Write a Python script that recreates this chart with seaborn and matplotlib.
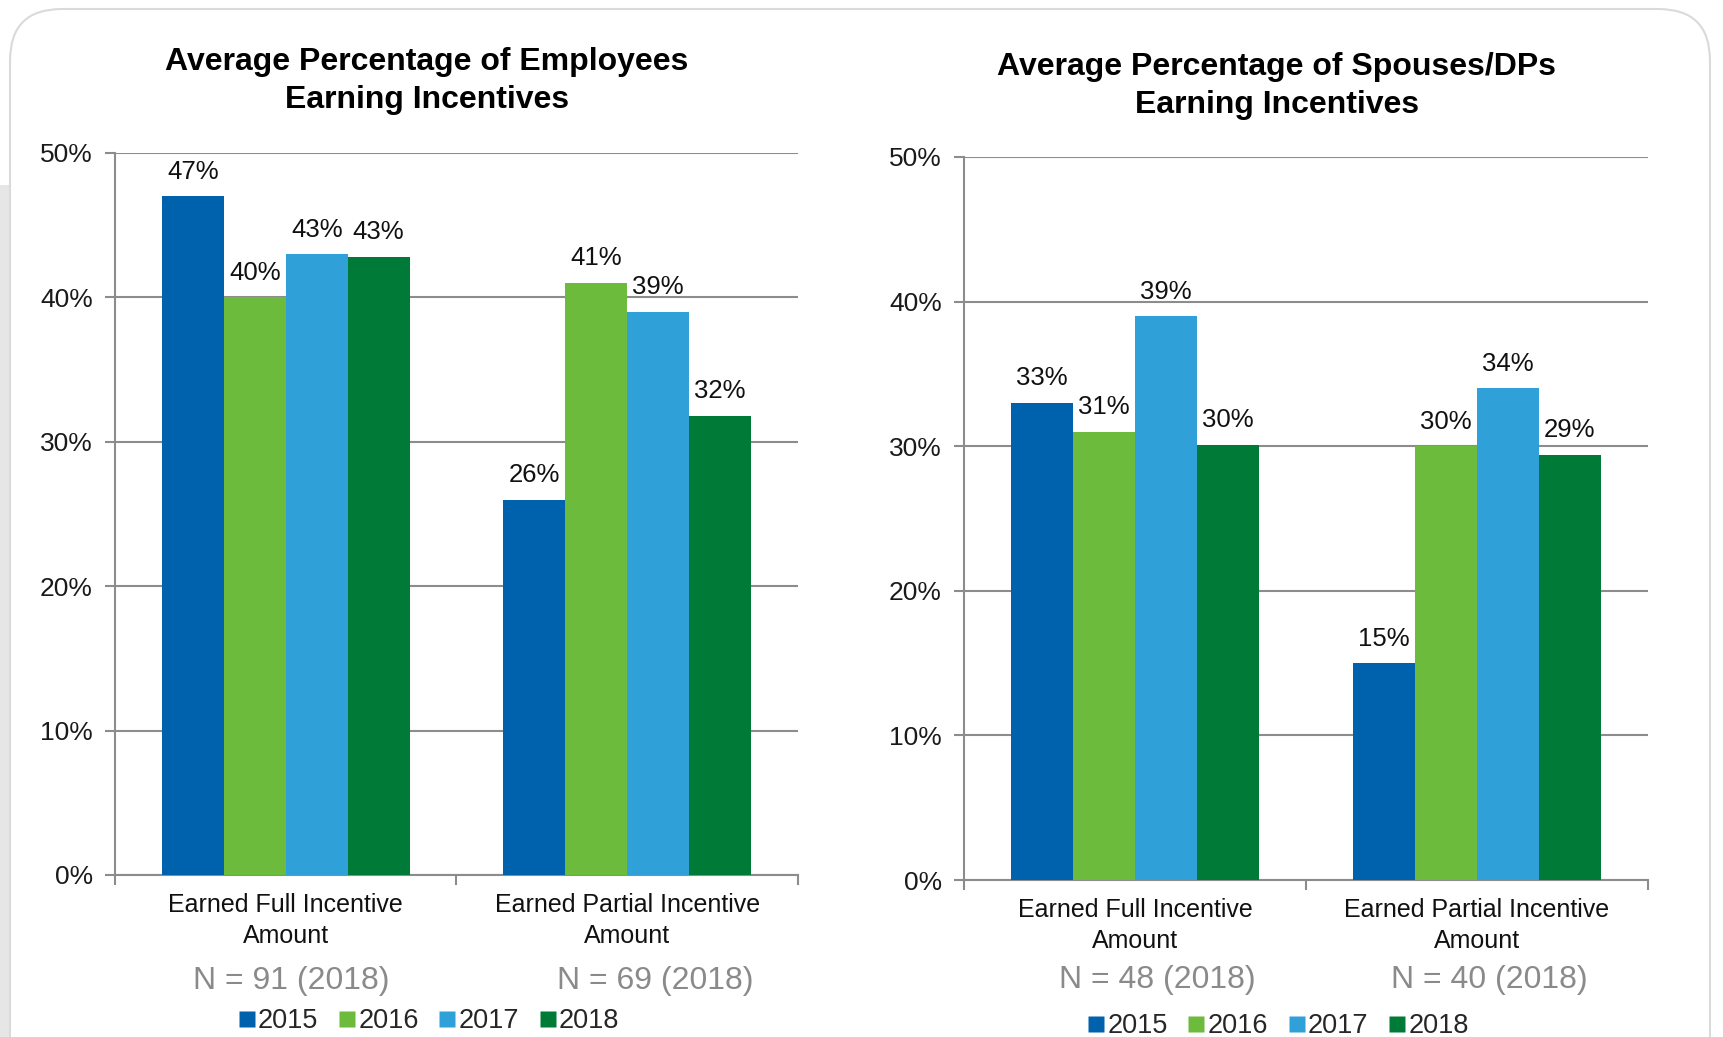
import matplotlib
matplotlib.use("Agg")
import matplotlib.pyplot as plt
from matplotlib.patches import FancyBboxPatch, Rectangle
from matplotlib.lines import Line2D
import seaborn as sns
import pandas as pd

# ---- data -------------------------------------------------------------
categories = ["Earned Full Incentive\nAmount", "Earned Partial Incentive\nAmount"]
years = ["2015", "2016", "2017", "2018"]

employees = {
    "2015": [47.0, 26.0],
    "2016": [40.0, 41.0],
    "2017": [43.0, 39.0],
    "2018": [42.8, 31.8],
}
spouses = {
    "2015": [33.0, 15.0],
    "2016": [31.0, 30.0],
    "2017": [39.0, 34.0],
    "2018": [30.1, 29.4],
}
employee_n = ["N = 91 (2018)", "N = 69 (2018)"]
spouse_n = ["N = 48 (2018)", "N = 40 (2018)"]

titles = ["Average Percentage of Employees\nEarning Incentives",
          "Average Percentage of Spouses/DPs\nEarning Incentives"]
y_ticks = [0, 10, 20, 30, 40, 50]

colors = ["#0061AD", "#6CBB3C", "#2FA0D8", "#007A37"]

# ---- styling ----------------------------------------------------------
sns.set_theme(style="white")
plt.rcParams["font.family"] = ["Liberation Sans", "DejaVu Sans"]
GRID = "#8C8C8C"

W, H = 1724, 1037
fig = plt.figure(figsize=(W / 100, H / 100), dpi=100)
fig.patch.set_facecolor("white")

# panel background
fig.patches.append(Rectangle((0, 0), 10 / W, 1 - 185 / H, transform=fig.transFigure,
                             facecolor="#E6E6E6", edgecolor="none", zorder=-3))
fig.patches.append(FancyBboxPatch((10 / W, -0.05), 1700 / W, 1.05 - 9 / H,
                                  boxstyle="round,pad=0,rounding_size=0.03",
                                  mutation_aspect=W / H,
                                  transform=fig.transFigure, facecolor="white",
                                  edgecolor="#DADADA", linewidth=1.5, zorder=-2))


def to_long(table):
    rows = []
    for y in years:
        for c, v in zip(categories, table[y]):
            rows.append({"category": c, "year": y, "value": v})
    return pd.DataFrame(rows)


def draw(rect, table, n_labels, n_offsets, n_drop, title, title_xy, legend_y):
    ax = fig.add_axes(rect)
    df = to_long(table)
    sns.barplot(data=df, x="category", y="value", hue="year", order=categories,
                hue_order=years, palette=colors, width=0.725, saturation=1,
                edgecolor="none", linewidth=0, ax=ax, legend=False, zorder=3)
    ax.set_xlim(-0.5, 1.5)
    ax.set_ylim(0, 50)
    ax.set_yticks(y_ticks)
    ax.set_yticklabels([f"{t}%" for t in y_ticks], fontsize=19, color="#1A1A1A")
    ax.yaxis.grid(True, color=GRID, linewidth=1.5, zorder=0)
    ax.set_axisbelow(True)
    ax.set_xlabel("")
    ax.set_ylabel("")
    for side in ["top", "right"]:
        ax.spines[side].set_visible(False)
    for side in ["left", "bottom"]:
        ax.spines[side].set_color(GRID)
        ax.spines[side].set_linewidth(1.5)
    ax.tick_params(axis="y", which="major", length=7, width=1.5, color=GRID, pad=9, left=True)
    ax.set_xticks([0, 1])
    ax.set_xticklabels(categories, fontsize=18, color="#111111", linespacing=1.35)
    ax.set_xticks([-0.5, 0.5, 1.5], minor=True)
    ax.tick_params(axis="x", which="major", length=0, pad=13)
    ax.tick_params(axis="x", which="minor", length=7, width=1.5, color=GRID, bottom=True)

    for cont in ax.containers:
        ax.bar_label(cont, labels=[f"{v:.0f}%" for v in cont.datavalues],
                     padding=9, fontsize=18.5, color="#111111")

    for i, (lab, dx) in enumerate(zip(n_labels, n_offsets)):
        ax.annotate(lab, xy=(i, 0), xycoords=("data", "axes fraction"),
                    xytext=(dx, -n_drop), textcoords="offset points",
                    ha="center", va="center", fontsize=23, color="#8A8A8A")

    fig.text(title_xy[0], title_xy[1], title, ha="center", va="center",
             fontsize=23, fontweight="bold", color="black", linespacing=1.32)

    handles = [Line2D([], [], marker="s", linestyle="none", markersize=11,
                      markerfacecolor=c, markeredgecolor="none") for c in colors]
    cx = (rect[0] + rect[0] + rect[2]) / 2
    fig.legend(handles, years, loc="center", bbox_to_anchor=(cx - 0.016, legend_y),
               ncol=4, frameon=False, handlelength=0.6, handletextpad=0.12,
               columnspacing=0.75, borderaxespad=0,
               prop={"size": 19.5})
    return ax


draw([115 / W, 1 - 875 / H, 683 / W, 722 / H], employees, employee_n, [4, 20], 76,
     titles[0], (427 / W, 1 - 81 / H), 1 - 1021 / H)
draw([964 / W, 1 - 880 / H, 684 / W, 723 / H], spouses, spouse_n, [16, 9], 72,
     titles[1], (1277 / W, 1 - 86 / H), 1 - 1026 / H)

fig.savefig("out.png", dpi=100, facecolor="white")
